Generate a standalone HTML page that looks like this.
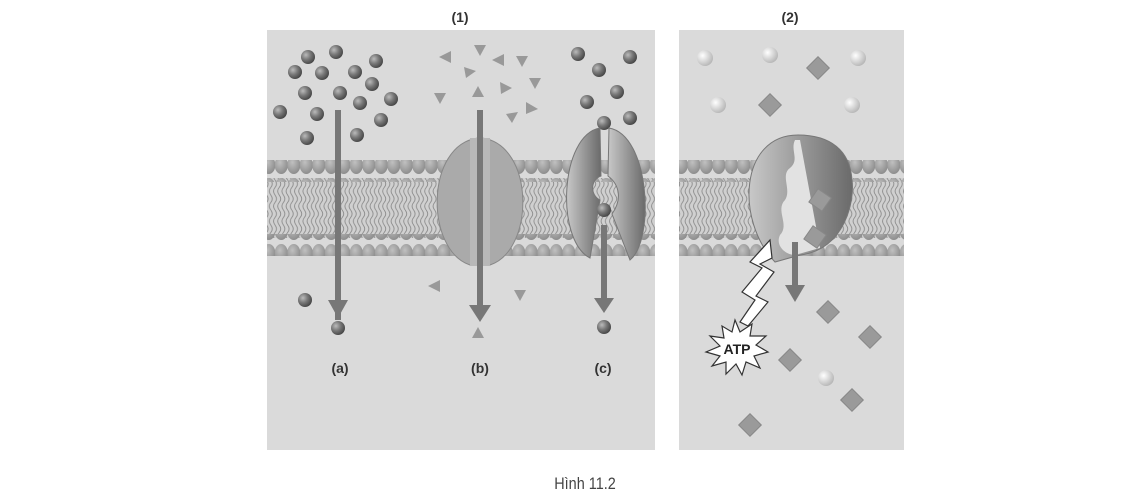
<!DOCTYPE html><html><head><meta charset="utf-8"><style>html,body{margin:0;background:#fff}svg{display:block}</style></head><body>
<svg width="1129" height="503" xmlns="http://www.w3.org/2000/svg" font-family="Liberation Sans, sans-serif">
<defs>
<radialGradient id="db" cx="0.35" cy="0.35" r="0.7"><stop offset="0" stop-color="#bbb"/><stop offset="0.5" stop-color="#777"/><stop offset="1" stop-color="#444"/></radialGradient>
<radialGradient id="lb" cx="0.35" cy="0.35" r="0.7"><stop offset="0" stop-color="#fff"/><stop offset="1" stop-color="#b5b5b5"/></radialGradient>
<radialGradient id="hd" cx="0.4" cy="0.35" r="0.7"><stop offset="0" stop-color="#c0c0c0"/><stop offset="1" stop-color="#8a8a8a"/></radialGradient>
<linearGradient id="pc" x1="0" x2="1"><stop offset="0" stop-color="#c8c8c8"/><stop offset="1" stop-color="#6a6a6a"/></linearGradient>
<pattern id="heads" width="12.5" height="22" patternUnits="userSpaceOnUse"><ellipse cx="6.25" cy="11" rx="6.6" ry="9" fill="url(#hd)"/></pattern>
<pattern id="tails" width="4.2" height="30" patternUnits="userSpaceOnUse"><path d="M2 0 q3 4 0 7.5 t0 7.5 t0 7.5 t0 7.5" fill="none" stroke="#8c8c8c" stroke-width="0.9"/></pattern>
</defs>
<rect x="267" y="30" width="388" height="420" fill="#dadada"/>
<rect x="679" y="30" width="225" height="420" fill="#dadada"/>
<g>
<rect x="267" y="178" width="388" height="60" fill="#d0d0d0"/>
<rect x="267" y="178" width="388" height="60" fill="url(#tails)"/>
<rect x="267" y="160" width="388" height="22" fill="url(#heads)"/>
<rect x="267" y="234" width="388" height="22" fill="url(#heads)"/>
<rect x="679" y="178" width="225" height="60" fill="#d0d0d0"/>
<rect x="679" y="178" width="225" height="60" fill="url(#tails)"/>
<rect x="679" y="160" width="225" height="22" fill="url(#heads)"/>
<rect x="679" y="234" width="225" height="22" fill="url(#heads)"/>
</g>
<text x="460" y="22" font-size="14" font-weight="bold" text-anchor="middle" fill="#333">(1)</text>
<text x="790" y="22" font-size="14" font-weight="bold" text-anchor="middle" fill="#333">(2)</text>
<g fill="url(#db)">
<circle cx="308" cy="57" r="7"/><circle cx="336" cy="52" r="7"/><circle cx="376" cy="61" r="7"/><circle cx="295" cy="72" r="7"/><circle cx="322" cy="73" r="7"/><circle cx="355" cy="72" r="7"/><circle cx="372" cy="84" r="7"/><circle cx="305" cy="93" r="7"/><circle cx="340" cy="93" r="7"/><circle cx="360" cy="103" r="7"/><circle cx="391" cy="99" r="7"/><circle cx="280" cy="112" r="7"/><circle cx="317" cy="114" r="7"/><circle cx="381" cy="120" r="7"/><circle cx="307" cy="138" r="7"/><circle cx="357" cy="135" r="7"/>
<circle cx="305" cy="300" r="7"/><circle cx="338" cy="328" r="7"/>
<circle cx="578" cy="54" r="7"/><circle cx="630" cy="57" r="7"/><circle cx="599" cy="70" r="7"/><circle cx="617" cy="92" r="7"/><circle cx="587" cy="102" r="7"/><circle cx="604" cy="123" r="7"/><circle cx="630" cy="118" r="7"/><circle cx="604" cy="327" r="7"/>
</g>
<rect x="335" y="110" width="6" height="210" fill="#777"/>
<polygon points="328,300 348,300 338,318" fill="#777"/>
<g fill="#999">
<polygon points="439,57 451,51 451,63"/><polygon points="474,45 486,45 480,56"/><polygon points="492,60 504,54 504,66"/><polygon points="516,56 528,56 522,67"/><polygon points="464,67 476,71 466,78"/><polygon points="529,78 541,78 535,89"/><polygon points="500,82 512,88 501,94"/><polygon points="472,97 484,97 478,86"/><polygon points="434,93 446,93 440,104"/><polygon points="526,102 538,109 526,114"/><polygon points="506,114 518,112 512,123"/>
<polygon points="428,286 440,280 440,292"/><polygon points="514,290 526,290 520,301"/><polygon points="472,338 484,338 478,327"/>
</g>
<path d="M478 138 C425 145 425 250 470 265 L478 262 Z" fill="#aaa" stroke="#888"/>
<path d="M482 138 C535 145 535 250 490 265 L482 262 Z" fill="#aaa" stroke="#888"/>
<rect x="470" y="138" width="20" height="128" fill="#b8b8b8"/>
<rect x="477" y="110" width="6" height="200" fill="#777"/>
<polygon points="469,305 491,305 480,322" fill="#777"/>
<path d="M600 128 C560 135 555 240 590 258 L600 200 C590 195 590 180 601 176 Z" fill="url(#pc)" stroke="#777"/>
<path d="M609 128 C650 135 655 240 630 260 L612 214 C622 200 620 185 608 176 Z" fill="url(#pc)" stroke="#777"/>
<circle cx="604" cy="210" r="7" fill="url(#db)"/>
<rect x="601" y="225" width="6" height="80" fill="#777"/>
<polygon points="594,298 614,298 604,313" fill="#777"/>
<g fill="url(#lb)">
<circle cx="705" cy="58" r="8"/><circle cx="770" cy="55" r="8"/><circle cx="858" cy="58" r="8"/><circle cx="718" cy="105" r="8"/><circle cx="852" cy="105" r="8"/><circle cx="826" cy="378" r="8"/>
</g>
<path d="M798 135 C740 135 735 220 775 262 L800 255 C845 250 855 200 852 180 C850 150 830 135 798 135 Z" fill="url(#pc)" stroke="#777"/>
<path d="M795 140 C790 150 800 160 790 168 C780 175 792 190 785 200 C775 210 790 225 780 235 C775 245 785 255 795 255 L820 248 L800 140 Z" fill="#e2e2e2"/>
<g fill="#9a9a9a" stroke="#888">
<rect x="-8" y="-8" width="16" height="16" transform="translate(818,68) rotate(45)"/>
<rect x="-8" y="-8" width="16" height="16" transform="translate(770,105) rotate(45)"/>
<rect x="-8" y="-8" width="16" height="16" transform="translate(820,200) rotate(35)"/>
<rect x="-8" y="-8" width="16" height="16" transform="translate(815,237) rotate(35)"/>
<rect x="-8" y="-8" width="16" height="16" transform="translate(828,312) rotate(45)"/>
<rect x="-8" y="-8" width="16" height="16" transform="translate(870,337) rotate(45)"/>
<rect x="-8" y="-8" width="16" height="16" transform="translate(790,360) rotate(45)"/>
<rect x="-8" y="-8" width="16" height="16" transform="translate(852,400) rotate(45)"/>
<rect x="-8" y="-8" width="16" height="16" transform="translate(750,425) rotate(45)"/>
</g>
<rect x="792" y="242" width="6" height="48" fill="#777"/>
<polygon points="785,285 805,285 795,302" fill="#777"/>
<path d="M740 322 L755 300 L742 292 L762 268 L750 262 L770 240 L772 258 L760 264 L774 272 L756 296 L768 302 L748 326 Z" fill="#fff" stroke="#333" stroke-width="1.2"/>
<polygon points="735,320 740,332 752,324 750,336 766,336 756,345 768,352 754,356 760,368 746,362 742,375 736,364 726,374 726,362 712,366 720,356 706,352 720,346 710,336 724,338 722,326 732,332" fill="#fff" stroke="#333" stroke-width="1.2"/>
<text x="737" y="354" font-size="14" font-weight="bold" text-anchor="middle" fill="#222">ATP</text>
<g font-size="14" font-weight="bold" fill="#333" text-anchor="middle">
<text x="340" y="373">(a)</text><text x="480" y="373">(b)</text><text x="603" y="373">(c)</text>
</g>
<text x="585" y="489" font-size="17" text-anchor="middle" fill="#444" transform="translate(585,0) scale(0.85,1) translate(-585,0)">Hình 11.2</text>
</svg></body></html>
